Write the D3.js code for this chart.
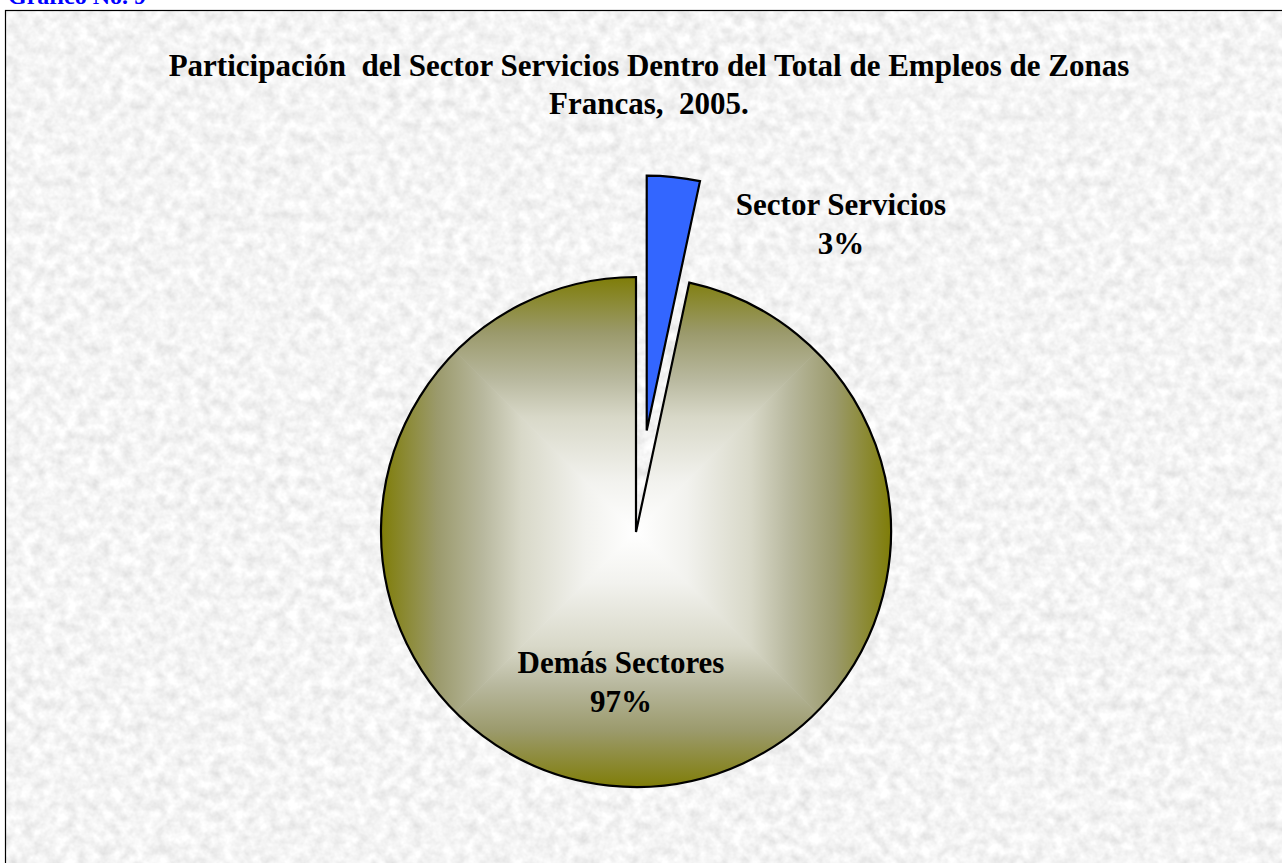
<!DOCTYPE html>
<html>
<head>
<meta charset="utf-8">
<script src="https://cdn.jsdelivr.net/npm/d3@7"></script>
<style>
  html, body { margin: 0; padding: 0; background: #fff; }
  svg { display: block; }
</style>
</head>
<body>
<svg id="chart" width="1282" height="863"></svg>
<script>
const categories = ["Sector Servicios", "Demás Sectores"];
const shares = [3.35, 96.65];
const pctLabels = ["3%", "97%"];
const titleLines = ["Participación  del Sector Servicios Dentro del Total de Empleos de Zonas", "Francas,  2005."];

const svg = d3.select("#chart");
const width = +svg.attr("width");
const height = +svg.attr("height");
const defs = svg.append("defs");
const serif = "'Liberation Serif', 'Times New Roman', serif";

// mottled paper background
const tex = defs.append("filter").attr("id", "paper")
  .attr("x", 0).attr("y", 0).attr("width", "100%").attr("height", "100%");
tex.append("feTurbulence").attr("type", "fractalNoise")
  .attr("baseFrequency", 0.09).attr("numOctaves", 3).attr("seed", 7);
tex.append("feColorMatrix").attr("type", "matrix")
  .attr("values", "0.38 0 0 0 0.715  0.38 0 0 0 0.715  0.38 0 0 0 0.715  0 0 0 0 1");

svg.append("rect").attr("width", width).attr("height", height).attr("fill", "#fff");
svg.append("rect").attr("x", 5).attr("y", 10).attr("width", width).attr("height", height)
  .attr("filter", "url(#paper)");
svg.append("rect").attr("x", 5.5).attr("y", 10.5).attr("width", width).attr("height", height)
  .attr("fill", "none").attr("stroke", "#000").attr("stroke-width", 1.2);

svg.append("text").attr("x", 8).attr("y", 4)
  .attr("font-family", serif)
  .attr("font-weight", "bold").attr("font-size", 24).attr("fill", "#0000ff")
  .text("Gráfico No. 9");

svg.append("g").selectAll("text").data(titleLines).join("text")
  .attr("x", 649).attr("y", (d, i) => 76 + i * 38)
  .attr("text-anchor", "middle")
  .attr("font-family", serif)
  .attr("font-weight", "bold").attr("font-size", 31)
  .attr("xml:space", "preserve").style("white-space", "pre")
  .text(d => d);

// pie
const cx = 636, cy = 532, r = 255;
const pie = d3.pie().sort(null).value(d => d.v);
const arcs = pie(categories.map((c, i) => ({ c, v: shares[i], p: pctLabels[i] })));
const arc = d3.arc().innerRadius(0).outerRadius(r);
const g = svg.append("g").attr("transform", `translate(${cx},${cy})`);

// rectangular gradient for the big slice: four triangles
const gradStops = [
  [0, "#ffffff"], [0.2, "#f2f2ee"], [0.45, "#d8d8c8"],
  [0.6, "#b8b89e"], [0.78, "#9b9a6c"], [1, "#7f7d08"]
];
const quads = [
  { id: "gT", x2: 0, y2: -r, pts: [[0, 0], [-r, -r], [r, -r]] },
  { id: "gB", x2: 0, y2: r, pts: [[0, 0], [-r, r], [r, r]] },
  { id: "gL", x2: -r, y2: 0, pts: [[0, 0], [-r, -r], [-r, r]] },
  { id: "gR", x2: r, y2: 0, pts: [[0, 0], [r, -r], [r, r]] }
];
quads.forEach(q => {
  const lg = defs.append("linearGradient").attr("id", q.id)
    .attr("gradientUnits", "userSpaceOnUse")
    .attr("x1", 0).attr("y1", 0).attr("x2", q.x2).attr("y2", q.y2);
  gradStops.forEach(s => lg.append("stop").attr("offset", s[0]).attr("stop-color", s[1]));
});

const big = arcs[1];
defs.append("clipPath").attr("id", "bigClip")
  .append("path").attr("d", arc(big));
g.append("g").attr("clip-path", "url(#bigClip)")
  .selectAll("polygon").data(quads).join("polygon")
  .attr("points", d => d.pts.map(p => p.join(",")).join(" "))
  .attr("fill", d => `url(#${d.id})`)
  .attr("stroke", d => `url(#${d.id})`).attr("stroke-width", 0.6);
g.append("path").attr("d", arc(big))
  .attr("fill", "none").attr("stroke", "#000").attr("stroke-width", 2.2)
  .attr("stroke-linejoin", "miter");

// exploded slice
const small = arcs[0];
const mid = (small.startAngle + small.endAngle) / 2;
const off = 0.4 * r;
const ox = Math.sin(mid) * off, oy = -Math.cos(mid) * off;
g.append("path").attr("d", arc(small))
  .attr("transform", `translate(${ox},${oy})`)
  .attr("fill", "#3366ff").attr("stroke", "#000").attr("stroke-width", 2.2);

// labels
const labels = [
  { a: arcs[0], x: 841, y: 215 },
  { a: arcs[1], x: 621, y: 673 }
];
const lg = svg.append("g");
labels.forEach(l => {
  const t = lg.append("text").attr("text-anchor", "middle")
    .attr("font-family", serif).attr("font-weight", "bold").attr("font-size", 31);
  t.append("tspan").attr("x", l.x).attr("y", l.y).text(l.a.data.c);
  t.append("tspan").attr("x", l.x).attr("y", l.y + 39).text(l.a.data.p);
});
</script>
</body>
</html>
